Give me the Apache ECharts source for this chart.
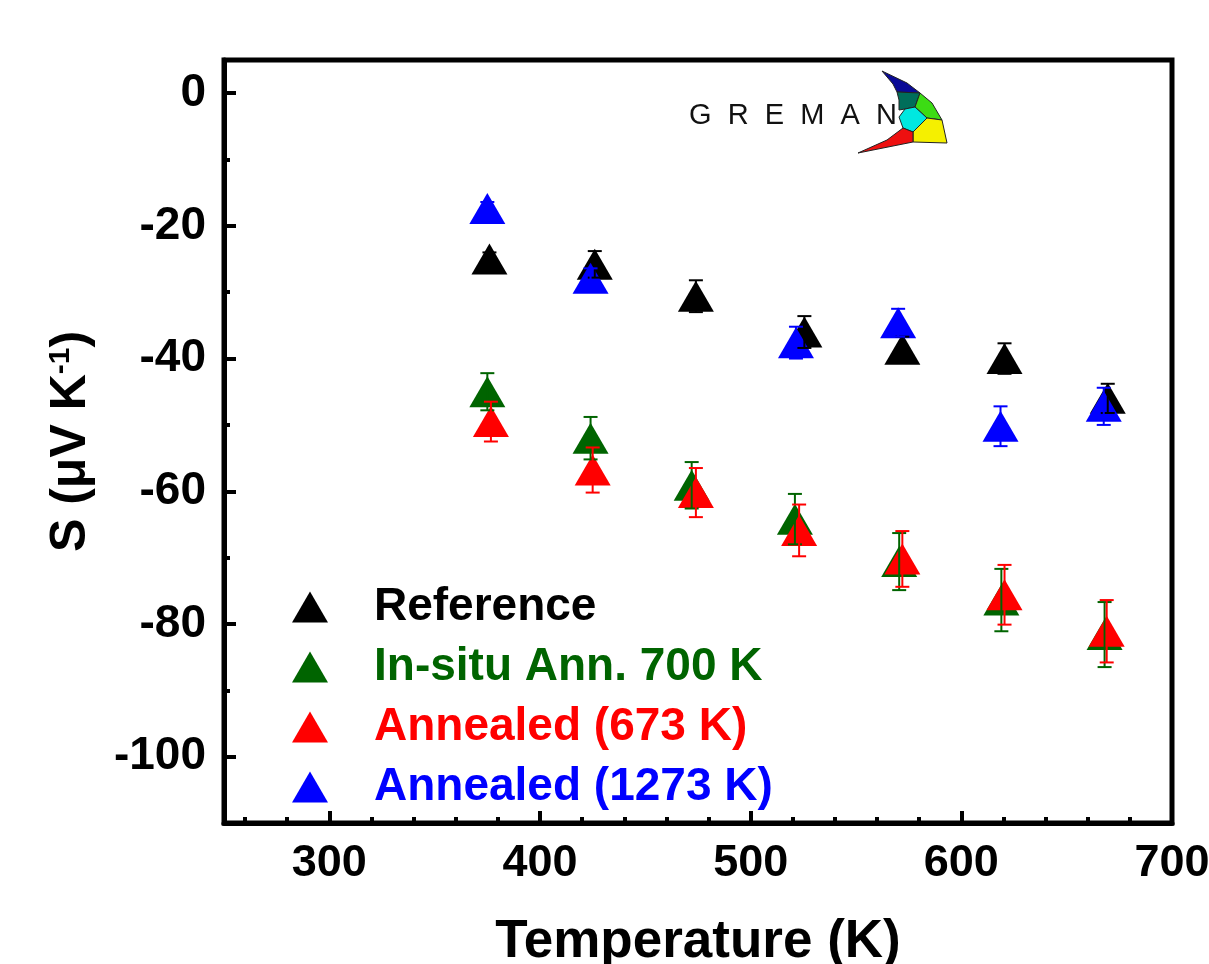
<!DOCTYPE html>
<html>
<head>
<meta charset="utf-8">
<script src="https://cdn.jsdelivr.net/npm/echarts@6/dist/echarts.min.js"></script>
<style>
  html, body { margin: 0; padding: 0; background: #fff; }
  #chart { width: 1209px; height: 964px; }
</style>
</head>
<body>
<div id="chart"></div>
<script>
// temperatures (K), Seebeck S (uV/K) and error bars
const refT = [376, 426, 474, 525.5, 572, 620.5, 669.5];
const refS = [-25, -25.8, -30.6, -36, -38.6, -40, -46];
const refErr = [1, 2, 2.4, 2.4, 1.9, 2.3, 2.2];

const insituT = [375, 424, 472, 521, 570.5, 619, 668];
const insituS = [-45, -52, -59.1, -64.2, -70.6, -76.4, -81.6];
const insituErr = [2.8, 3.2, 3.5, 3.8, 4.3, 4.7, 4.9];

const ann673T = [376.7, 425, 474, 523, 572, 620.5, 669];
const ann673S = [-49.5, -56.8, -60.2, -65.9, -70.2, -75.6, -81.1];
const ann673Err = [3, 3.4, 3.7, 3.9, 4.2, 4.5, 4.7];

const ann1273T = [375, 424, 521.5, 570, 618.6, 667.6];
const ann1273S = [-17.4, -27.9, -37.6, -34.6, -50.2, -47.2];
const ann1273Err = [1, 1.5, 2.4, 2.1, 3, 2.8];

const xMajor = [300, 400, 500, 600, 700];
const xMinor = [260, 280, 320, 340, 360, 380, 420, 440, 460, 480, 520, 540, 560, 580, 620, 640, 660, 680];
const yMajor = [-100, -80, -60, -40, -20, 0];
const yMinor = [-110, -90, -70, -50, -30, -10];

const FONT = 'Liberation Sans';

const groups = [
  { name: 'Reference', color: '#000000', t: refT, s: refS, e: refErr },
  { name: 'In-situ Ann. 700 K', color: '#006400', t: insituT, s: insituS, e: insituErr },
  { name: 'Annealed (673 K)', color: '#ff0000', t: ann673T, s: ann673S, e: ann673Err },
  { name: 'Annealed (1273 K)', color: '#0000ff', t: ann1273T, s: ann1273S, e: ann1273Err }
];

function errorBars(color) {
  return function (params, api) {
    const top = api.coord([api.value(0), api.value(2)]);
    const bot = api.coord([api.value(0), api.value(1)]);
    const w = 7;
    const st = { stroke: color, lineWidth: 2 };
    return {
      type: 'group',
      children: [
        { type: 'line', shape: { x1: top[0], y1: top[1], x2: bot[0], y2: bot[1] }, style: st },
        { type: 'line', shape: { x1: top[0] - w, y1: top[1], x2: top[0] + w, y2: top[1] }, style: st },
        { type: 'line', shape: { x1: bot[0] - w, y1: bot[1], x2: bot[0] + w, y2: bot[1] }, style: st }
      ]
    };
  };
}

const series = [];
groups.forEach(function (g, i) {
  series.push({
    name: g.name,
    type: 'scatter',
    symbol: 'triangle',
    symbolSize: [36, 31],
    itemStyle: { color: g.color, opacity: 1 },
    z: 2 + i,
    data: g.t.map(function (t, k) { return [t, g.s[k]]; })
  });
});
groups.forEach(function (g) {
  series.push({
    name: g.name + ' err',
    type: 'custom',
    z: 10,
    renderItem: errorBars(g.color),
    data: g.t.map(function (t, k) { return [t, g.s[k] - g.e[k], g.s[k] + g.e[k]]; })
  });
});

const legends = groups.map(function (g, i) {
  return {
    orient: 'vertical',
    left: 287,
    top: 579 + i * 60,
    icon: 'triangle',
    itemWidth: 36,
    itemHeight: 31,
    selectedMode: false,
    data: [g.name],
    textStyle: {
      color: g.color, fontFamily: FONT, fontWeight: 'bold', fontSize: 46,
      lineHeight: 46, padding: [0, 0, 0, 41]
    }
  };
});

// GREMAN logo
const edge = { stroke: '#222', lineWidth: 1 };
function cell(points, fill) {
  return { type: 'polygon', z: 20, shape: { points: points }, style: Object.assign({ fill: fill }, edge) };
}
const logo = [
  { type: 'text', left: 689, top: 101, z: 20, style: { text: 'G  R  E  M  A  N', font: '29px ' + FONT, fill: '#111' } },
  cell([[882, 71], [907, 83], [920, 93], [897, 92], [893, 84]], '#0a0a96'),
  cell([[897, 92], [920, 93], [915, 107], [905, 109], [899, 110], [899, 100]], '#006e5a'),
  cell([[920, 93], [932, 103], [942, 120], [927, 118], [915, 107]], '#3cdc14'),
  cell([[905, 109], [915, 107], [927, 118], [913, 132], [903, 128], [899, 117]], '#00e8e0'),
  cell([[927, 118], [942, 120], [947, 143], [913, 142], [913, 132]], '#f5f000'),
  cell([[903, 128], [913, 132], [913, 142], [858, 153], [887, 140]], '#ee1010')
];

const chart = echarts.init(document.getElementById('chart'));
chart.setOption({
  animation: false,
  backgroundColor: '#fff',
  grid: {
    left: 224, right: 37, top: 60, bottom: 141,
    outerBoundsMode: 'none', containLabel: false,
    show: true, borderColor: '#000', borderWidth: 5
  },
  legend: legends,
  graphic: logo,
  xAxis: [
    {
      type: 'value', min: 250, max: 700, position: 'bottom',
      name: 'Temperature (K)', nameLocation: 'middle', nameGap: 93,
      nameTextStyle: { fontFamily: FONT, fontWeight: 'bold', fontSize: 53, color: '#000' },
      axisLine: { onZero: false, lineStyle: { color: '#000', width: 5 } },
      axisTick: { inside: true, length: 12, lineStyle: { color: '#000', width: 4 }, customValues: xMajor },
      axisLabel: { customValues: xMajor, fontFamily: FONT, fontWeight: 'bold', fontSize: 45, color: '#000', margin: 18 },
      splitLine: { show: false }
    },
    {
      type: 'value', min: 250, max: 700, position: 'bottom',
      axisLine: { show: false, onZero: false },
      axisTick: { inside: true, length: 6, lineStyle: { color: '#000', width: 4 }, customValues: xMinor },
      axisLabel: { show: false },
      splitLine: { show: false }
    }
  ],
  yAxis: [
    {
      type: 'value', min: -110, max: 5, position: 'left',
      name: '{a|S (μV K}{b|-1}{a|)}', nameLocation: 'middle', nameGap: 128, nameRotate: 90,
      nameTextStyle: {
        color: '#000',
        rich: {
          a: { fontFamily: FONT, fontWeight: 'bold', fontSize: 50, color: '#000' },
          b: { fontFamily: FONT, fontWeight: 'bold', fontSize: 30, color: '#000', padding: [0, 0, 20, 0] }
        }
      },
      axisLine: { onZero: false, lineStyle: { color: '#000', width: 5 } },
      axisTick: { inside: true, length: 12, lineStyle: { color: '#000', width: 4 }, customValues: yMajor },
      axisLabel: { customValues: yMajor, fontFamily: FONT, fontWeight: 'bold', fontSize: 46, color: '#000', margin: 18 },
      splitLine: { show: false }
    },
    {
      type: 'value', min: -110, max: 5, position: 'left',
      axisLine: { show: false, onZero: false },
      axisTick: { inside: true, length: 6, lineStyle: { color: '#000', width: 4 }, customValues: yMinor },
      axisLabel: { show: false },
      splitLine: { show: false }
    }
  ],
  series: series
});
</script>
</body>
</html>
